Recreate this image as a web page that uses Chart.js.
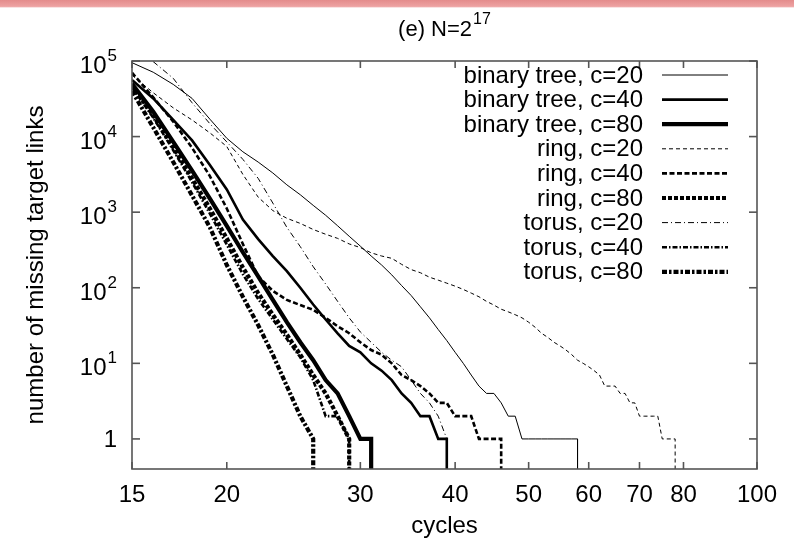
<!DOCTYPE html>
<html><head><meta charset="utf-8">
<script src="https://cdn.jsdelivr.net/npm/chart.js@4.4.0/dist/chart.umd.min.js"></script>
<style>html,body{margin:0;padding:0;background:#fff;}#wrap{width:794px;height:542px;position:relative;}</style>
</head><body><div id="wrap"><canvas id="c" width="794" height="542"></canvas></div>
<script>
// ---------- data ----------
const FIRST_CYCLE = 15;               // every series starts at cycle 15, one value per cycle
const ZERO_ON_LOG = 0.01;             // "0 missing links": drawn below the log axis (clipped)
const xTicks = [15, 20, 30, 40, 50, 60, 70, 80, 100];
const yTicks = [1, 10, 100, 1000, 10000, 100000];
const yTickExp = ['', '1', '2', '3', '4', '5'];

const binaryC20 = [95000, 71000, 49000, 32000, 17000, 9500, 6300, 4600, 3300, 2300, 1700, 1230, 910, 660, 480, 355, 263, 200, 148, 107, 79, 56, 40, 28, 20, 14, 10, 7, 5, 4, 4, 3, 2, 2, 1, 1, 1, 1, 1, 1, 1, 1, 1, 1];
const binaryC40 = [56000, 32000, 16600, 8900, 4200, 2000, 800, 440, 263, 166, 100, 60, 38, 25, 17, 14, 10, 8, 6, 4, 3, 2, 2, 1, 1];
const binaryC80 = [50000, 21400, 8500, 3550, 1510, 660, 295, 141, 69, 35, 19, 11, 6, 4, 2, 1, 1];
const ringC20 = [65000, 38000, 24000, 16600, 11200, 7400, 3160, 1580, 1050, 830, 710, 590, 510, 450, 380, 340, 290, 263, 245, 204, 174, 158, 138, 126, 115, 105, 95, 85, 76, 66, 59, 52, 48, 44, 40, 35, 30, 25, 22, 19, 17, 15, 13, 11, 10, 9, 8, 7, 5, 5, 5, 4, 4, 3, 3, 2, 2, 2, 2, 2, 1, 1, 1, 1];
const ringC40 = [70000, 33000, 15800, 7100, 3000, 1120, 380, 141, 91, 69, 59, 51, 40, 31, 25, 19, 15, 13, 10, 7, 6, 5, 4, 3, 3, 2, 2, 2, 1, 1, 1, 1];
const ringC80 = [47900, 19000, 7200, 2800, 1120, 450, 186, 85, 44, 24, 13, 7, 4, 2, 1];
const torusC20 = [158000, 98000, 59000, 28000, 14800, 8500, 5000, 2800, 1320, 630, 350, 190, 112, 66, 40, 26, 19, 14, 11, 9, 6, 4, 3, 2, 1];
const torusC40 = [44700, 17800, 6600, 2500, 955, 372, 151, 71, 38, 21, 12, 6, 2, 2, 1];
const torusC80 = [40000, 13200, 4600, 1660, 630, 200, 76, 32, 13, 5, 2, 1];

const seriesLabels = ['binary tree, c=20', 'binary tree, c=40', 'binary tree, c=80',
                      'ring, c=20', 'ring, c=40', 'ring, c=80',
                      'torus, c=20', 'torus, c=40', 'torus, c=80'];
const seriesValues = [binaryC20, binaryC40, binaryC80, ringC20, ringC40, ringC80, torusC20, torusC40, torusC80];

// ---------- styles ----------
const widths = [1, 2.6, 4.2, 1, 2.6, 4.2, 1, 2.6, 4.2];
const dashes = [[], [], [], [4, 3], [5, 2.5], [4, 2], [6, 3, 1, 3], [5, 2, 1.5, 2], [5, 2, 2.5, 2]];
const FONT = '"Liberation Sans", Arial, Helvetica, sans-serif';

function toPoints(vals) {
  const pts = vals.map((v, i) => ({x: FIRST_CYCLE + i, y: v}));
  pts.push({x: FIRST_CYCLE + vals.length - 1, y: ZERO_ON_LOG});
  return pts;
}

const datasets = seriesValues.map((vals, i) => ({
  label: seriesLabels[i],
  data: toPoints(vals),
  borderColor: '#000',
  borderWidth: widths[i],
  borderDash: dashes[i],
  borderCapStyle: 'butt',
  borderJoinStyle: 'miter',
  pointRadius: 0,
  tension: 0,
  fill: false,
  clip: 0
}));

function line(ctx, x1, y1, x2, y2) { ctx.beginPath(); ctx.moveTo(x1, y1); ctx.lineTo(x2, y2); ctx.stroke(); }

const decor = {
  id: 'decor',
  beforeDraw(chart) {
    const ctx = chart.ctx;
    ctx.save();
    const g = ctx.createLinearGradient(0, 0, 0, 8);
    g.addColorStop(0, '#e48c8c'); g.addColorStop(0.8, '#eda2a2'); g.addColorStop(1, '#ffffff');
    ctx.fillStyle = g; ctx.fillRect(0, 0, 794, 8);
    ctx.restore();
  },
  afterDraw(chart) {
    const {ctx, chartArea: {left, right, top, bottom}, scales: {x, y}} = chart;
    ctx.save();
    // border + inward ticks (mirrored)
    ctx.strokeStyle = '#555'; ctx.lineWidth = 1.6;
    for (const v of xTicks) { const px = x.getPixelForValue(v); line(ctx, px, bottom, px, bottom - 7); line(ctx, px, top, px, top + 7); }
    for (const v of yTicks) { const py = y.getPixelForValue(v); line(ctx, left, py, left + 8, py); line(ctx, right, py, right - 8, py); }
    ctx.strokeRect(left, top, right - left, bottom - top);

    ctx.fillStyle = '#000';
    // x tick labels
    ctx.font = '24px ' + FONT; ctx.textAlign = 'center'; ctx.textBaseline = 'alphabetic';
    for (const v of xTicks) ctx.fillText(String(v), x.getPixelForValue(v), 502);
    // y tick labels with superscripts
    const labRight = 117;
    yTicks.forEach((v, i) => {
      const py = y.getPixelForValue(v);
      ctx.textAlign = 'right';
      if (!yTickExp[i]) { ctx.font = '24px ' + FONT; ctx.fillText(String(v), labRight, py + 8.5); return; }
      ctx.font = '17px ' + FONT;
      const sw = ctx.measureText(yTickExp[i]).width;
      ctx.fillText(yTickExp[i], labRight, py);
      ctx.font = '24px ' + FONT;
      ctx.fillText('10', labRight - sw - 1, py + 12);
    });
    // axis titles
    ctx.font = '24px ' + FONT; ctx.textAlign = 'center';
    ctx.fillText('cycles', (left + right) / 2, 533);
    ctx.save(); ctx.translate(43, 265); ctx.rotate(-Math.PI / 2);
    ctx.fillText('number of missing target links', 0, 0); ctx.restore();
    // title "(e) N=2^17"
    ctx.font = '22px ' + FONT;
    const base = '(e) N=2', sup = '17';
    const bw = ctx.measureText(base).width;
    ctx.font = '16px ' + FONT;
    const supw = ctx.measureText(sup).width;
    const tx = (left + right) / 2 - (bw + supw + 1) / 2;
    ctx.textAlign = 'left';
    ctx.font = '22px ' + FONT; ctx.fillText(base, tx, 36);
    ctx.font = '16px ' + FONT; ctx.fillText(sup, tx + bw + 1, 24);
    // legend
    const textRight = 643, sx1 = 662, sx2 = 728;
    chart.data.datasets.forEach((ds, i) => {
      const ry = 75 + i * 24.6;
      ctx.font = '24px ' + FONT; ctx.textAlign = 'right'; ctx.textBaseline = 'middle';
      ctx.fillStyle = '#000';
      ctx.fillText(ds.label, textRight, ry + 1);
      ctx.strokeStyle = ds.borderColor; ctx.lineWidth = ds.borderWidth; ctx.setLineDash(ds.borderDash); ctx.lineCap = 'butt';
      line(ctx, sx1, ry, sx2, ry);
      ctx.setLineDash([]);
    });
    ctx.restore();
  }
};

new Chart(document.getElementById('c'), {
  type: 'line',
  data: {datasets},
  options: {
    responsive: false, animation: false, devicePixelRatio: 1,
    layout: {padding: {left: 0, top: 61, right: 37, bottom: 0}},
    plugins: {legend: {display: false}, tooltip: {enabled: false}, title: {display: false}},
    scales: {
      x: {type: 'logarithmic', min: 15, max: 100,
          ticks: {display: false}, grid: {display: false}, border: {display: false},
          afterBuildTicks: s => { s.ticks = xTicks.map(v => ({value: v})); },
          afterFit: s => { s.height = 73; }},
      y: {type: 'logarithmic', min: 0.4, max: 100000,
          ticks: {display: false}, grid: {display: false}, border: {display: false},
          afterBuildTicks: s => { s.ticks = yTicks.map(v => ({value: v})); },
          afterFit: s => { s.width = 132; }}
    }
  },
  plugins: [decor]
});
</script></body></html>
